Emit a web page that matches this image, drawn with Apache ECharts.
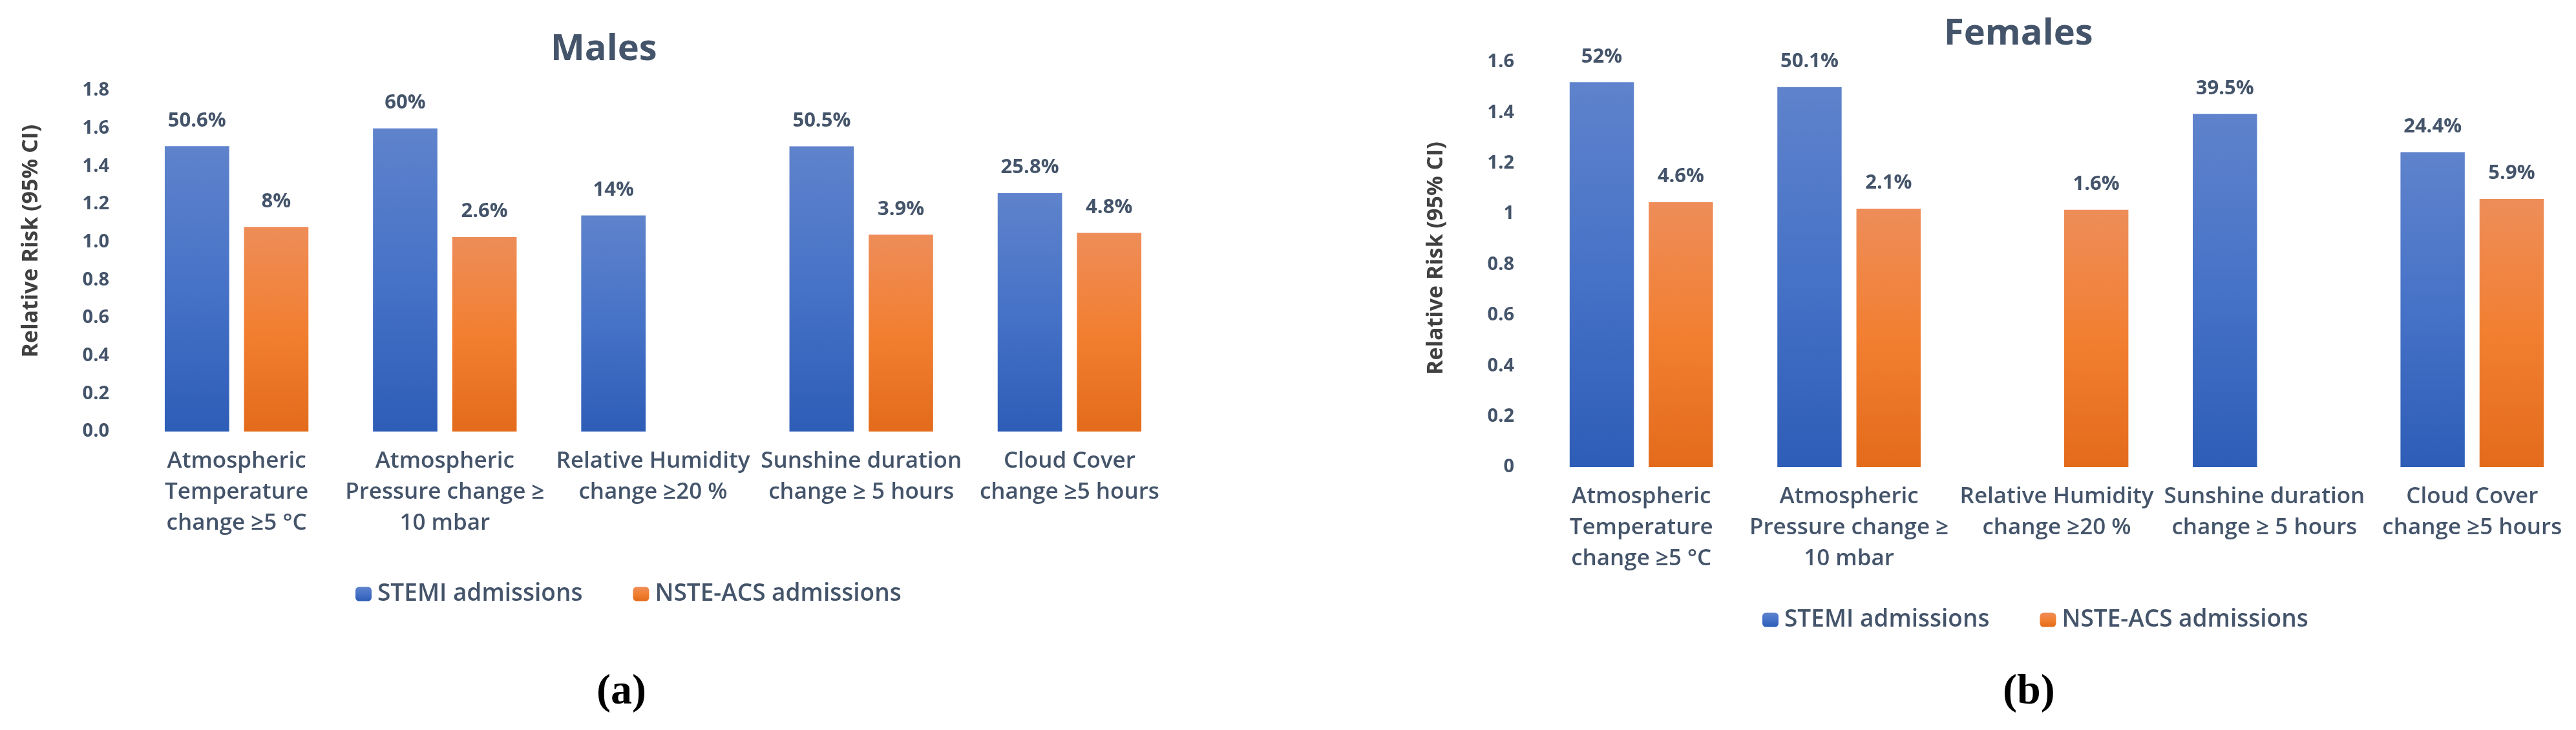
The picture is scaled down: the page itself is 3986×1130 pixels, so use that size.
<!DOCTYPE html>
<html>
<head>
<meta charset="utf-8">
<script src="https://cdn.jsdelivr.net/npm/echarts@6/dist/echarts.min.js"></script>
<style>
html,body{margin:0;padding:0;background:#fff;}
#chart{width:3986px;height:1130px;}
</style>
</head>
<body>
<div id="chart"></div>
<script>
// ---- data ----
const categories = [
  'Atmospheric\nTemperature\nchange ≥5 °C',
  'Atmospheric\nPressure change ≥\n10 mbar',
  'Relative Humidity\nchange ≥20 %',
  'Sunshine duration\nchange ≥ 5 hours',
  'Cloud Cover\nchange ≥5 hours'
];
const seriesNames = ['STEMI admissions', 'NSTE-ACS admissions'];
const maleStemi   = [1.506, 1.600, 1.140, 1.505, 1.258];
const maleNste    = [1.080, 1.026, null, 1.039, 1.048];
const femaleStemi = [1.520, 1.501, null, 1.395, 1.244];
const femaleNste  = [1.046, 1.021, 1.016, null, 1.059];
const maleAxis   = {min: 0, max: 1.8, interval: 0.2};
const femaleAxis = {min: 0, max: 1.6, interval: 0.2};

// ---- styles ----
const TXT = '#44546A';
const FONT = '"Open Sans", "Noto Sans", sans-serif';
const blueGrad = new echarts.graphic.LinearGradient(0, 0, 0, 1, [
  {offset: 0, color: '#5F83CC'}, {offset: 0.5, color: '#4672C7'}, {offset: 1, color: '#2E5DB7'}]);
const orangeGrad = new echarts.graphic.LinearGradient(0, 0, 0, 1, [
  {offset: 0, color: '#EE8D59'}, {offset: 0.5, color: '#F27F31'}, {offset: 1, color: '#E36B1B'}]);

function pctLabel(p) {
  const v = p.value;
  if (v == null) return '';
  return (Math.round((v - 1) * 1000) / 10) + '%';
}
function barSeries(name, data, xi, color) {
  return {
    name: name, type: 'bar', xAxisIndex: xi, yAxisIndex: xi, data: data,
    barGap: '23%', barCategoryGap: '31%',
    itemStyle: {color: color},
    label: {show: true, position: 'top', distance: 24, formatter: pctLabel,
      color: TXT, fontFamily: FONT, fontWeight: 'bold', fontSize: 31},
    emphasis: {disabled: true}
  };
}
function catAxis(gi) {
  return {type: 'category', gridIndex: gi, data: categories,
    axisLine: {show: false}, axisTick: {show: false},
    axisLabel: {interval: 0, margin: 22, color: TXT, fontFamily: FONT, fontWeight: 600,
      fontSize: 35, lineHeight: 48}};
}
function valAxis(gi, ax, fmt, gap, pad) {
  return {type: 'value', gridIndex: gi, min: ax.min, max: ax.max, interval: ax.interval,
    splitLine: {show: false}, axisLine: {show: false}, axisTick: {show: false},
    axisLabel: {margin: 36, color: TXT, fontFamily: FONT, fontWeight: 'bold', fontSize: 29, formatter: fmt},
    name: 'Relative Risk (95% CI)', nameLocation: 'middle', nameRotate: 90, nameGap: gap,
    nameTextStyle: {color: '#404040', fontFamily: FONT, fontWeight: 'bold', fontSize: 34,
      padding: [0, 0, 0, pad]}};
}
function legendAt(left, top) {
  return {data: seriesNames, left: left, top: top, itemWidth: 25, itemHeight: 22, itemGap: 78,
    selectedMode: false,
    textStyle: {color: TXT, fontFamily: FONT, fontWeight: 600, fontSize: 37, padding: [0, 0, 0, 4]}};
}
function panelTag(letter, left) {
  return {text: '{p|(}{b|' + letter + '}{p|)}', left: left, top: 1034, textStyle: {rich: {
    p: {fontFamily: '"Liberation Serif", serif', fontSize: 66, color: '#000'},
    b: {fontFamily: '"Liberation Serif", serif', fontSize: 66, fontWeight: 'bold', color: '#000'}}}};
}

const chart = echarts.init(document.getElementById('chart'));
chart.setOption({
  backgroundColor: '#ffffff',
  animation: false,
  title: [
    {text: 'Males', left: 847, top: 44, textStyle: {color: TXT, fontFamily: FONT, fontWeight: 'bold', fontSize: 56}},
    {text: 'Females', left: 3003, top: 20, textStyle: {color: TXT, fontFamily: FONT, fontWeight: 'bold', fontSize: 56}},
    panelTag('a', 918),
    panelTag('b', 3094)
  ],
  legend: [legendAt(545, 896), legendAt(2722, 936)],
  grid: [
    {left: 205, top: 140, width: 1611, height: 528},
    {left: 2379, top: 96, width: 1607, height: 627}
  ],
  xAxis: [catAxis(0), catAxis(1)],
  yAxis: [
    valAxis(0, maleAxis, v => v.toFixed(1), 140, 62),
    valAxis(1, femaleAxis, null, 140, 20)
  ],
  series: [
    barSeries(seriesNames[0], maleStemi, 0, blueGrad),
    barSeries(seriesNames[1], maleNste, 0, orangeGrad),
    barSeries(seriesNames[0], femaleStemi, 1, blueGrad),
    barSeries(seriesNames[1], femaleNste, 1, orangeGrad)
  ]
});
</script>
</body>
</html>
